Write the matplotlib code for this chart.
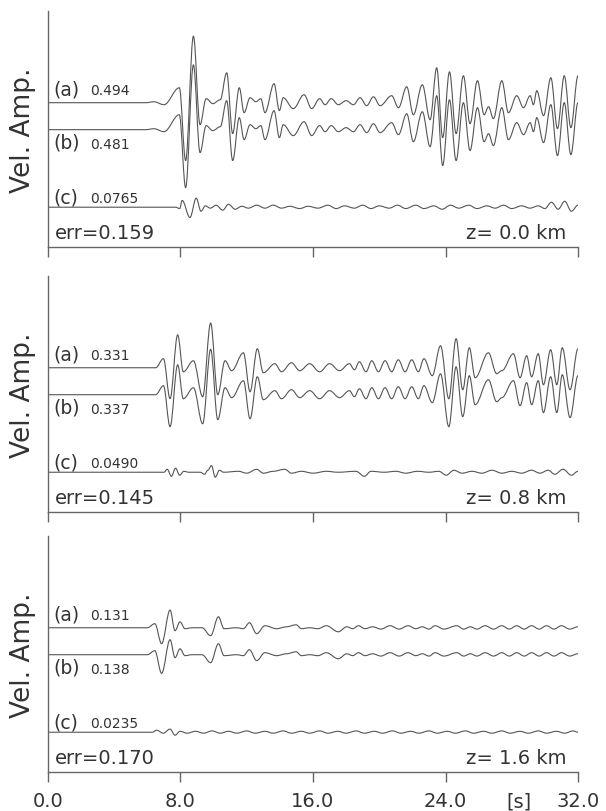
import matplotlib
matplotlib.use("Agg")
import matplotlib.pyplot as plt
from matplotlib.path import Path
from matplotlib.patches import PathPatch

# --- data: extrema (time [s], velocity amplitude) ---

# z = 0.0 km
t_ab1 = [0, 5.9, 6.4, 7.0, 7.93, 8.31, 8.78, 9.18, 9.55, 9.95, 10.4, 10.79, 11.15, 11.55,
         11.84, 12.2, 12.55, 12.85, 13.1, 13.65, 13.97, 14.2, 14.81, 15.46, 15.92, 16.4,
         16.73, 17.1, 17.53, 18.0, 18.44, 18.84, 19.24, 19.65, 20.05, 20.75, 21.16, 21.66,
         22.06, 22.6, 23.07, 23.47, 23.83, 24.24, 24.64, 25.08, 25.48, 25.93, 26.33, 26.6,
         26.89, 27.4, 27.8, 28.3, 28.71, 29.11, 29.31, 29.51, 29.92, 30.36, 30.76, 31.17,
         31.57, 32.0]
a1 = [0, 0, 0.007, -0.015, 0.111, -0.429, 0.494, -0.163, 0.030, -0.007, 0.022, 0.222,
      -0.229, 0.111, -0.074, 0.037, 0.007, 0.030, -0.074, 0.141, -0.059, 0.037, -0.044,
      0.059, -0.044, 0.030, -0.015, 0.030, -0.015, 0.015, -0.015, 0.037, -0.022, 0.044,
      -0.022, 0.052, -0.037, 0.118, -0.089, 0.133, -0.126, 0.259, -0.259, 0.229, -0.229,
      0.200, -0.155, 0.163, -0.089, -0.030, -0.118, 0.163, -0.074, 0.052, -0.037, 0.052,
      -0.015, 0.089, -0.096, 0.185, -0.192, 0.200, -0.185, 0.200]
b1 = [0, 0, 0.007, -0.015, 0.111, -0.430, 0.481, -0.170, 0.030, -0.007, 0.022, 0.215,
      -0.229, 0.089, -0.074, 0.037, 0.007, 0.030, -0.074, 0.141, -0.059, 0.037, -0.044,
      0.059, -0.044, 0.030, -0.015, 0.030, -0.015, 0.015, -0.015, 0.037, -0.022, 0.044,
      -0.022, 0.052, -0.037, 0.118, -0.089, 0.133, -0.126, 0.252, -0.266, 0.222, -0.229,
      0.200, -0.155, 0.163, -0.089, -0.030, -0.118, 0.163, -0.074, 0.052, -0.037, 0.052,
      -0.015, 0.089, -0.096, 0.185, -0.192, 0.200, -0.185, 0.200]
t_c1 = [0, 7.7, 7.95, 8.1, 8.57, 8.95, 9.24, 9.5, 9.8, 10.15, 10.55, 10.9, 11.3, 11.7,
        12.1, 12.6, 13.1, 13.6, 14.1, 14.6, 15.2, 15.7, 16.3, 16.9, 17.4, 17.9, 18.5,
        19.0, 19.5, 20.0, 20.6, 21.1, 21.6, 22.2, 22.7, 23.3, 23.8, 24.3, 24.8, 25.4,
        25.9, 26.5, 27.0, 27.5, 28.0, 28.6, 29.1, 29.6, 30.0, 30.4, 30.8, 31.2, 31.6, 32.0]
c1 = [0, 0, -0.010, 0.050, -0.0765, 0.067, -0.030, 0.010, -0.007, 0.015, -0.022, 0.022,
      -0.015, 0.007, -0.007, 0.015, -0.007, 0.015, -0.007, 0.007, -0.010, 0.007, -0.007,
      0.015, -0.010, 0.010, -0.007, 0.015, -0.010, 0.010, -0.007, 0.015, -0.010, 0.015,
      -0.010, 0.010, -0.015, 0.015, -0.007, 0.015, -0.010, 0.010, -0.007, 0.015, -0.010,
      0.010, -0.007, 0.010, -0.010, 0.037, -0.015, 0.044, -0.030, 0.015]

# z = 0.8 km
t_ab2 = [0, 6.5, 6.97, 7.37, 7.83, 8.17, 8.78, 9.34, 9.82, 10.25, 10.69, 11.09, 11.8,
         12.2, 12.64, 13.0, 13.7, 14.1, 14.7, 15.2, 15.8, 16.4, 17.0, 17.6, 18.2, 18.5,
         18.8, 19.2, 19.55, 19.95, 20.35, 20.75, 21.15, 21.56, 21.96, 22.36, 22.7, 23.2,
         23.7, 24.2, 24.64, 25.04, 25.44, 25.79, 26.59, 27.09, 27.4, 28.1, 28.5, 28.9,
         29.2, 29.6, 29.91, 30.35, 30.72, 31.05, 31.52, 32.0]
a2 = [0, 0, 0.067, -0.229, 0.244, -0.030, 0.052, -0.215, 0.331, -0.200, 0.052, -0.022,
      0.111, -0.178, 0.141, -0.037, 0.030, -0.030, 0.037, -0.022, 0.030, -0.030, 0.030,
      -0.022, 0.030, -0.015, 0.044, -0.030, 0.052, -0.030, 0.052, -0.030, 0.059, -0.030,
      0.059, -0.030, 0.067, -0.059, 0.163, -0.230, 0.215, -0.163, 0.148, -0.074, 0.111,
      -0.044, -0.022, 0.104, -0.074, 0.089, -0.067, 0.104, -0.126, 0.133, -0.126, 0.148,
      -0.163, 0.141]
b2 = [0, 0, 0.067, -0.237, 0.222, -0.030, 0.052, -0.215, 0.337, -0.185, 0.052, -0.022,
      0.104, -0.178, 0.133, -0.037, 0.030, -0.030, 0.037, -0.022, 0.030, -0.030, 0.030,
      -0.022, 0.030, -0.015, 0.044, -0.030, 0.052, -0.030, 0.052, -0.030, 0.059, -0.030,
      0.059, -0.030, 0.067, -0.059, 0.155, -0.237, 0.207, -0.163, 0.141, -0.074, 0.111,
      -0.052, -0.022, 0.104, -0.081, 0.089, -0.074, 0.104, -0.133, 0.133, -0.133, 0.148,
      -0.170, 0.141]
t_c2 = [0, 7.0, 7.2, 7.45, 7.7, 7.95, 8.2, 8.5, 9.2, 9.45, 9.65, 9.87, 10.1, 10.35, 10.6,
        11.5, 12.0, 12.6, 13.0, 13.6, 14.3, 14.7, 15.3, 16.0, 16.8, 17.5, 18.6, 19.1,
        19.5, 20.3, 21.0, 21.6, 22.3, 23.0, 23.6, 24.05, 24.5, 25.0, 25.6, 26.2, 26.8,
        27.4, 28.0, 28.6, 29.2, 29.7, 30.2, 30.6, 31.1, 31.6, 32.0]
c2 = [0, 0, 0.022, -0.030, 0.030, -0.022, 0.007, 0, 0, -0.015, 0.015, 0.049, -0.037,
      0.015, 0, 0.007, -0.007, 0.022, -0.007, 0.007, 0.022, -0.007, 0.007, -0.007, 0.007,
      0, 0.007, -0.030, 0.007, 0, 0.007, -0.007, 0.007, 0, 0.007, -0.022, 0.015, -0.007,
      0.007, -0.007, 0.015, -0.007, 0.007, -0.007, 0.015, -0.007, 0.015, -0.015, 0.022,
      -0.022, 0.007]

# z = 1.6 km
t_ab3 = [0, 5.6, 6.0, 6.45, 6.86, 7.37, 7.67, 7.97, 8.27, 8.7, 9.3, 9.82, 10.29, 10.63,
         11.39, 11.8, 12.16, 12.6, 13.1, 13.8, 14.4, 14.98, 15.3, 15.8, 16.3, 16.8, 17.53,
         18.04, 18.4, 18.74, 19.14, 19.6, 20.1, 20.65, 21.2, 21.74, 22.2, 22.6, 23.0,
         23.37, 23.9, 24.68, 25.1, 25.5, 25.9, 26.39, 26.9, 27.4, 27.85, 28.3, 28.75,
         29.2, 29.65, 30.1, 30.55, 31.0, 31.5, 32.0]
a3 = [0, 0, 0, 0.030, -0.118, 0.131, -0.022, 0.044, -0.007, 0, 0, -0.059, 0.081, -0.007,
      0, -0.007, 0.037, -0.044, 0.015, -0.007, 0.007, 0.022, -0.007, 0, -0.007, 0.015,
      -0.030, 0.007, -0.007, 0.015, -0.007, 0.007, -0.010, 0.015, -0.010, 0.015, -0.007,
      0.007, -0.010, 0.015, -0.010, 0.015, -0.010, 0.007, -0.010, 0.015, -0.010, 0.015,
      -0.010, 0.015, -0.010, 0.015, -0.010, 0.015, -0.010, 0.015, -0.010, 0.007]
b3 = [0, 0, 0, 0.030, -0.138, 0.111, -0.022, 0.044, -0.007, 0, 0, -0.059, 0.081, -0.007,
      0, -0.007, 0.037, -0.044, 0.015, -0.007, 0.007, 0.022, -0.007, 0, -0.007, 0.015,
      -0.030, 0.007, -0.007, 0.015, -0.007, 0.007, -0.010, 0.015, -0.010, 0.015, -0.007,
      0.007, -0.010, 0.015, -0.010, 0.015, -0.010, 0.007, -0.010, 0.015, -0.010, 0.015,
      -0.010, 0.015, -0.010, 0.015, -0.010, 0.015, -0.010, 0.015, -0.010, 0.007]
t_c3 = [0, 6.3, 6.56, 6.96, 7.37, 7.67, 7.97, 8.4, 8.9, 9.4, 9.9, 10.4, 10.9, 11.4, 12.0,
        12.5, 13.1, 13.6, 14.2, 14.7, 15.3, 15.8, 16.4, 16.9, 17.5, 18.0, 18.6, 19.1,
        19.7, 20.2, 20.8, 21.3, 21.9, 22.4, 23.0, 23.5, 24.1, 24.6, 25.2, 25.7, 26.3,
        26.8, 27.4, 27.9, 28.5, 29.0, 29.6, 30.1, 30.7, 31.2, 31.7, 32.0]
c3 = [0, 0, 0.015, -0.007, 0.0235, -0.022, 0.007, -0.007, 0.007, -0.007, 0.010, -0.007,
      0.007, -0.007, 0.010, -0.007, 0.007, -0.007, 0.010, -0.007, 0.007, -0.007, 0.010,
      -0.007, 0.007, -0.007, 0.010, -0.007, 0.007, -0.007, 0.010, -0.007, 0.007, -0.007,
      0.010, -0.007, 0.007, -0.007, 0.010, -0.007, 0.007, -0.007, 0.010, -0.007, 0.007,
      -0.007, 0.010, -0.007, 0.007, -0.007, 0.010, 0]

max_a = ["0.494", "0.331", "0.131"]
max_b = ["0.481", "0.337", "0.138"]
max_c = ["0.0765", "0.0490", "0.0235"]
errs = ["err=0.159", "err=0.145", "err=0.170"]
depths = ["z= 0.0 km", "z= 0.8 km", "z= 1.6 km"]
xticks = [0, 8, 16, 24, 32]
xticklabels = ["0.0", "8.0", "16.0", "24.0", "32.0"]

panels = [
    (t_ab1, a1, b1, t_c1, c1),
    (t_ab2, a2, b2, t_c2, c2),
    (t_ab3, a3, b3, t_c3, c3),
]

# trace baselines (plot layout, amplitude units)
off_a, off_b, off_c = 1.07, 0.87, 0.295
line_col = "#555555"
text_col = "#333333"


def wiggle(t, v, base):
    # smooth curve through the extrema, horizontal tangent at each one
    verts = [(t[0], base + v[0])]
    codes = [Path.MOVETO]
    for i in range(len(t) - 1):
        dt = t[i + 1] - t[i]
        verts += [(t[i] + 0.36 * dt, base + v[i]),
                  (t[i + 1] - 0.36 * dt, base + v[i + 1]),
                  (t[i + 1], base + v[i + 1])]
        codes += [Path.CURVE4] * 3
    return PathPatch(Path(verts, codes), fill=False, edgecolor=line_col, lw=0.8)


fig = plt.figure(figsize=(6.06, 8.12), dpi=100)
bottoms = [0.6946, 0.3682, 0.048]

for k, (t_ab, a, b, t_c, c) in enumerate(panels):
    ax = fig.add_axes([0.0792, bottoms[k], 0.8746, 0.2906])
    ax.add_patch(wiggle(t_ab, a, off_a))
    ax.add_patch(wiggle(t_ab, b, off_b))
    ax.add_patch(wiggle(t_c, c, off_c))
    ax.set_xlim(0, 32)
    ax.set_ylim(0, 1.75)

    for s in ["top", "right"]:
        ax.spines[s].set_visible(False)
    for s in ["left", "bottom"]:
        ax.spines[s].set_color("#666666")
        ax.spines[s].set_linewidth(1.0)
    ax.set_yticks([])
    ax.set_xticks(xticks)
    ax.tick_params(axis="x", direction="out", length=7, width=1.0, color="#666666",
                   labelsize=14, labelcolor=text_col, pad=7)
    if k < 2:
        ax.tick_params(axis="x", labelbottom=False)
    else:
        ax.set_xticklabels(xticklabels)
        ax.text(28.45, -0.147, "[s]", transform=ax.get_xaxis_transform(),
                ha="center", va="baseline", fontsize=14, color=text_col)

    ax.text(-0.047, 0.5, "Vel. Amp.", transform=ax.transAxes, rotation=90,
            ha="center", va="center", fontsize=19, color=text_col)

    ax.text(0.3, off_a + 0.063, "(a)", fontsize=13.5, color=text_col, va="baseline")
    ax.text(2.54, off_a + 0.063, max_a[k], fontsize=10, color=text_col, va="baseline")
    ax.text(0.3, off_b - 0.133, "(b)", fontsize=13.5, color=text_col, va="baseline")
    ax.text(2.54, off_b - 0.133, max_b[k], fontsize=10, color=text_col, va="baseline")
    ax.text(0.3, off_c + 0.037, "(c)", fontsize=13.5, color=text_col, va="baseline")
    ax.text(2.54, off_c + 0.037, max_c[k], fontsize=10, color=text_col, va="baseline")

    ax.text(0.42, 0.07, errs[k], fontsize=14, color=text_col, va="baseline")
    ax.text(31.3, 0.07, depths[k], fontsize=14, color=text_col, va="baseline", ha="right")

fig.savefig("out.png", dpi=100)
